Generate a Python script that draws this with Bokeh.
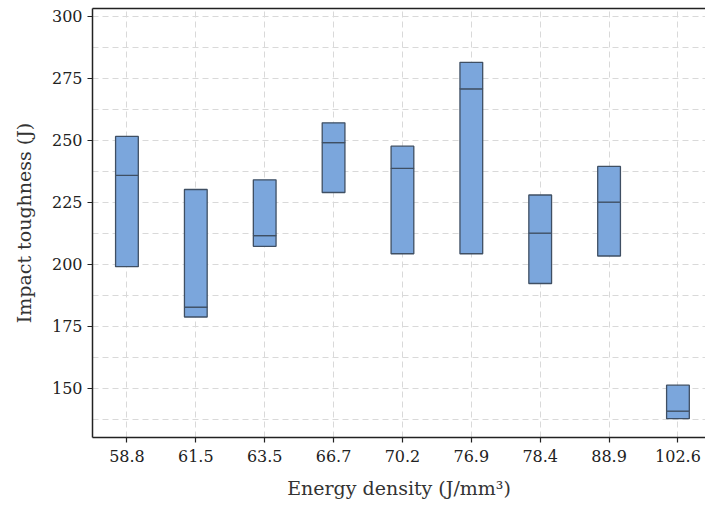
from bokeh.plotting import figure
from bokeh.models import FixedTicker, Range1d, LinearAxis
from bokeh.embed import file_html
from bokeh.resources import INLINE

categories = ["58.8", "61.5", "63.5", "66.7", "70.2", "76.9", "78.4", "88.9", "102.6"]
box_low = [199.1, 178.8, 207.3, 229.0, 204.3, 204.3, 192.3, 203.4, 137.8]
box_median = [235.9, 182.8, 211.6, 249.1, 238.7, 270.8, 212.6, 225.1, 140.8]
box_high = [251.6, 230.2, 234.1, 257.1, 247.7, 281.5, 228.0, 239.5, 151.3]
y_ticks = [150, 175, 200, 225, 250, 275, 300]
y_minor = [137.5, 162.5, 187.5, 212.5, 237.5, 262.5, 287.5]

idx = list(range(len(categories)))
FONT = "DejaVu Serif"
FILL = "#7ba6dc"
EDGE = "#3f4f63"

p = figure(width=705, height=506, output_backend="svg", toolbar_location=None,
           x_range=Range1d(-0.5, 8.4), y_range=Range1d(130.2, 303.2),
           min_border_left=92, min_border_right=0, min_border_top=8, min_border_bottom=69)

p.vbar(x=idx, bottom=box_low, top=box_median, width=0.33, fill_color=FILL,
       line_color=EDGE, line_width=1.3)
p.vbar(x=idx, bottom=box_median, top=box_high, width=0.33, fill_color=FILL,
       line_color=EDGE, line_width=1.3)

p.outline_line_color = None

top = LinearAxis(ticker=FixedTicker(ticks=[]),
                 axis_line_color="#222222", axis_line_width=1.5,
                 major_tick_line_color=None, minor_tick_line_color=None)
p.add_layout(top, "above")

xax = p.below[0]
yax = p.left[0]
xax.ticker = FixedTicker(ticks=idx)
xax.major_label_overrides = {i: c for i, c in zip(idx, categories)}
yax.ticker = FixedTicker(ticks=y_ticks, minor_ticks=y_minor)

for ax in (xax, yax):
    ax.axis_line_color = "#222222"
    ax.axis_line_width = 1.5
    ax.major_tick_line_color = "#222222"
    ax.major_tick_line_width = 1.2
    ax.major_tick_in = 0
    ax.major_tick_out = 5
    ax.minor_tick_line_color = None
    ax.major_label_text_font = FONT
    ax.major_label_text_font_size = "16px"
    ax.major_label_text_color = "#222222"
    ax.axis_label_text_font = FONT
    ax.axis_label_text_font_size = "19px"
    ax.axis_label_text_font_style = "normal"
    ax.axis_label_text_color = "#333333"

xax.axis_label = "Energy density (J/mm³)"
yax.axis_label = "Impact toughness (J)"
xax.major_label_standoff = 7
yax.major_label_standoff = 5
xax.axis_label_standoff = 12
yax.axis_label_standoff = 14

p.xgrid.grid_line_color = "#d9d9d9"
p.xgrid.grid_line_dash = "6 4"
p.ygrid.grid_line_color = "#d9d9d9"
p.ygrid.grid_line_dash = "6 4"
p.ygrid.minor_grid_line_color = "#d9d9d9"
p.ygrid.minor_grid_line_dash = "6 4"

open("out.html", "w").write(file_html(p, INLINE))
